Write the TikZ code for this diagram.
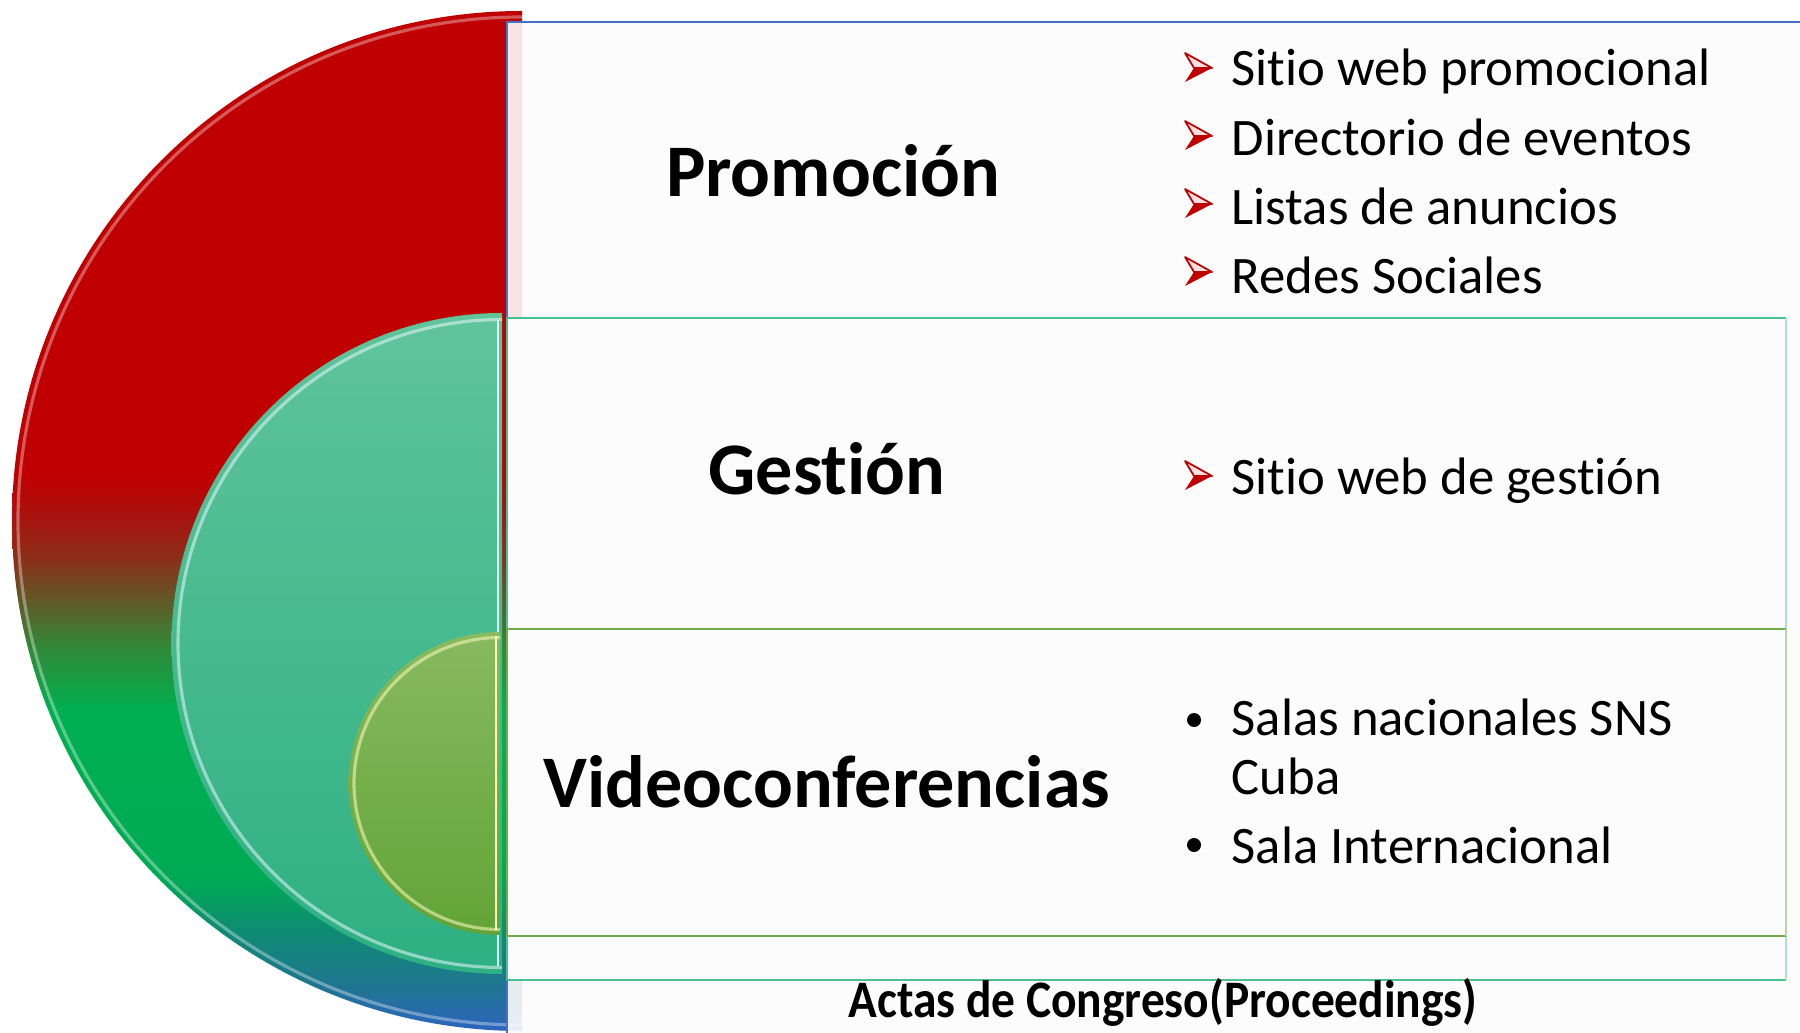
\documentclass[tikz,border=0pt]{standalone}
\usepackage{fontspec}
\setmainfont{Carlito}[Ligatures=NoCommon]
\usepackage{graphicx}
\usetikzlibrary{positioning}

\definecolor{actred}{HTML}{C00000}
\definecolor{actblue}{HTML}{4472C4}
\definecolor{actteal}{HTML}{4ABF91}
\definecolor{actgreen}{HTML}{70AD47}
\definecolor{boxfill}{HTML}{FCFCFC}
\definecolor{tealtop}{HTML}{60C49B}
\definecolor{tealbot}{HTML}{2DB083}
\definecolor{limetop}{HTML}{88BA60}
\definecolor{limebot}{HTML}{62A437}

% colours of the outer half disc, bottom (25bp) to top (75bp)
\definecolor{sh0}{HTML}{2E64C0}
\definecolor{sh1}{HTML}{1F7590}
\definecolor{sh2}{HTML}{0E8C72}
\definecolor{sh3}{HTML}{00AA55}
\definecolor{sh4}{HTML}{00B050}
\definecolor{sh5}{HTML}{2F8A38}
\definecolor{sh6}{HTML}{625A28}
\definecolor{sh7}{HTML}{8A3018}
\definecolor{sh8}{HTML}{A51510}
\pgfdeclareverticalshading{outershade}{100bp}{color(0bp)=(sh0); color(25bp)=(sh0);
  color(27.2bp)=(sh1); color(30bp)=(sh2); color(32.4bp)=(sh3); color(40.7bp)=(sh4);
  color(43.7bp)=(sh5); color(46.1bp)=(sh6); color(48.1bp)=(sh7); color(50bp)=(sh8);
  color(52.2bp)=(actred); color(100bp)=(actred)}

\tikzset{
  heading/.style={font=\fontsize{21.1}{25}\selectfont\bfseries, anchor=base, inner sep=0pt},
  item/.style={font=\fontsize{15}{18}\selectfont, inner sep=0pt, text height=10.5pt, text depth=3.5pt},
  glow/.style={line width=0.9pt, opacity=0.55},
  arrowmark/.pic={
    \fill[actred] (9,1) -- (27,1) -- (0,15) -- cycle;
    \filldraw[draw=actred, fill=red!12, line width=0.5pt] (0,-14) -- (27,1) -- (9,1) -- cycle;
  },
  dotmark/.pic={\fill (0,0) circle[radius=7];}
}

\begin{document}
\begin{tikzpicture}[x=0.1mm, y=-0.1mm, line join=round]
\useasboundingbox (0,0) rectangle (1800,1033);

% outer half disc
\begin{scope}
  \clip (0,0) rectangle (522,1033);
  \shade[shading=outershade] (522,521) circle[radius=510];
  \draw[glow, white, opacity=0.35] (522,521) circle[radius=504];
\end{scope}

% middle half disc
\begin{scope}
  \clip (0,0) rectangle (502,1033);
  \shade[top color=tealtop, bottom color=tealbot] (502,643.5) circle[radius=330.5];
  \draw[glow, cyan!10!white] (502,643.5) circle[radius=324];
\end{scope}
\draw[cyan!15!white, line width=0.6pt] (498,320) -- (498,966);

% inner half disc
\begin{scope}
  \clip (0,0) rectangle (500,1033);
  \shade[top color=limetop, bottom color=limebot] (500,783.5) circle[radius=151.5];
  \draw[glow, yellow!25!white] (500,783.5) circle[radius=146];
\end{scope}
\draw[yellow!30!white, line width=0.6pt] (496,636) -- (496,930);

% boxes
\fill[boxfill, opacity=0.9] (507,22) rectangle (1800,1033);
\draw[actblue, line width=0.8pt] (1800,22) -- (507,22) -- (507,1033);
\fill[boxfill] (507,318) rectangle (1786,980);
\draw[actteal, line width=0.8pt] (1786,318) -- (507,318) -- (507,980) -- (1786,980);
\draw[actteal!45, line width=0.6pt] (1786,318) -- (1786,980);
\fill[boxfill] (507,629) rectangle (1786,936);
\draw[actgreen, line width=0.8pt] (1786,629) -- (507,629) -- (507,936) -- (1786,936);
\draw[actgreen!50, line width=0.6pt] (1786,629) -- (1786,936);

% headings
\node[heading] (promo) at (833,197) {Promoción};
\node[heading] (gest) at (827,494) {Gestión};
\node[heading] (video) at (827,807) {Videoconferencias};
\node[heading, font=\fontsize{15}{18}\selectfont\bfseries] (actas) at (1163,1017) {\scalebox{0.9}[1]{Actas de Congreso(Proceedings)}};

% items
\node[item, anchor=base west] (p1) at (1231,86) {Sitio web promocional};
\node[item, below=5.3pt of p1.south west, anchor=north west] (p2) {Directorio de eventos};
\node[item, below=5.3pt of p2.south west, anchor=north west] (p3) {Listas de anuncios};
\node[item, below=5.3pt of p3.south west, anchor=north west] (p4) {Redes Sociales};
\foreach \yy in {67,135,203,271}
  \pic at (1185,\yy) {arrowmark};

\node[item, anchor=base west] (g1) at (1231,494) {Sitio web de gestión};
\pic at (1185,475) {arrowmark};

\node[item, anchor=base west] (v1) at (1231,735) {Salas nacionales SNS};
\node[item, below=2.5pt of v1.south west, anchor=north west] (v1b) {Cuba};
\node[item, below=5.3pt of v1b.south west, anchor=north west] (v2) {Sala Internacional};
\pic at (1194,720) {dotmark};
\pic at (1194,845) {dotmark};
\end{tikzpicture}
\end{document}
